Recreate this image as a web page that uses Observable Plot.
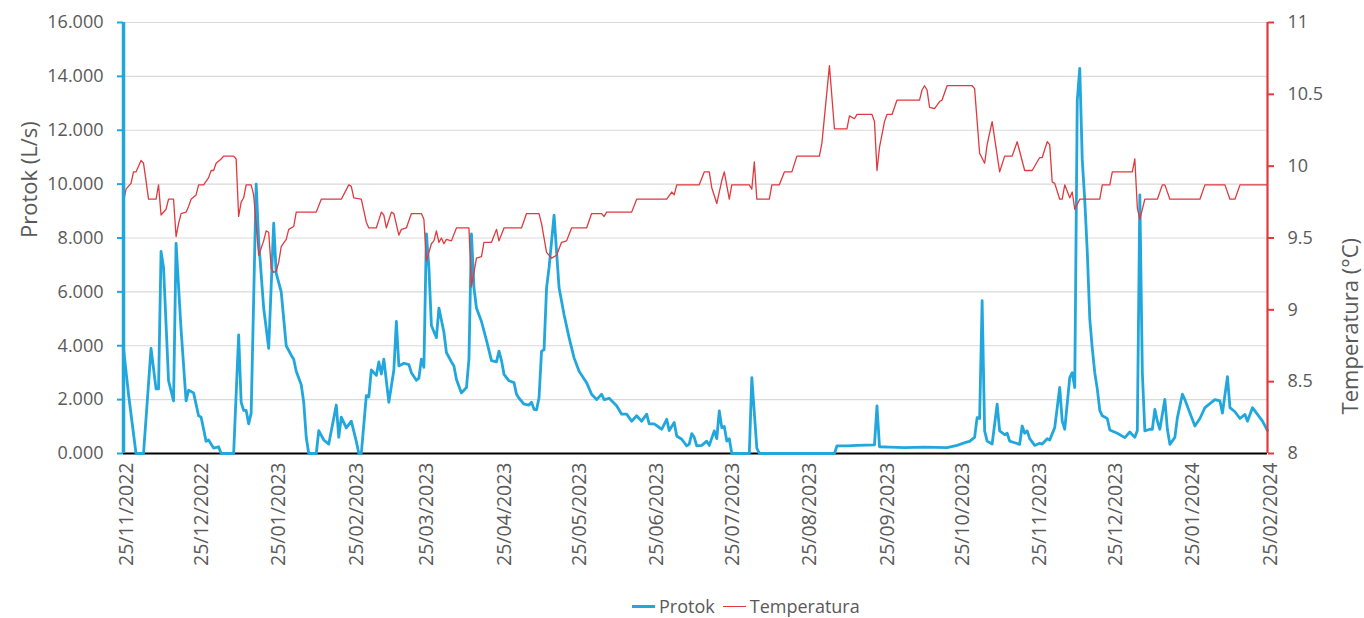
<!DOCTYPE html>
<html>
<head>
<meta charset="utf-8">
<script src="https://cdn.jsdelivr.net/npm/d3@7"></script>
<script src="https://cdn.jsdelivr.net/npm/@observablehq/plot@0.6"></script>
<style>
  html, body { margin: 0; padding: 0; background: #fff; }
  #wrap { position: relative; width: 1364px; height: 618px; font-family: "Open Sans", sans-serif; }
  #legend { position: absolute; left: 632px; top: 594px; display: flex; align-items: center; font-size: 18px; color: #595959; }
  #legend .item { display: flex; align-items: center; margin-right: 8px; }
  #legend .sw { width: 23px; margin-right: 4px; }
</style>
</head>
<body>
<div id="wrap">
  <div id="chart"></div>
  <div id="legend">
    <div class="item"><div class="sw" style="border-top:3px solid #22a7dc"></div><span>Protok</span></div>
    <div class="item"><div class="sw" style="border-top:1.5px solid #e0393e"></div><span>Temperatura</span></div>
  </div>
</div>
<script>
// ---- data (x = day number counted from 25/11/2022) ----
const startDate = "2022-11-25";
const endDay = 457;

const protokDays = [0,2,5,8,11,13,14,15,16,18,20,21,23,25,26,28,30,31,32,33,34,36,38,39,44,46,47,48,49,50,51,53,54,56,58,60,61,63,65,67,68,69,71,72,73,74,77,78,80,82,85,86,87,89,91,93,94,95,97,98,99,101,102,103,104,106,108,109,110,112,114,115,117,118,119,120,121,122,123,125,126,128,129,131,132,133,135,137,138,139,140,141,143,145,147,149,150,151,152,154,156,157,158,160,162,163,164,165,166,167,168,169,170,172,173,174,176,178,180,182,185,187,189,191,192,194,197,199,201,203,205,207,209,210,212,215,217,218,220,221,223,225,226,227,228,229,231,233,234,236,237,238,239,240,241,242,243,250,251,253,254,284,285,289,293,300,301,302,306,312,320,329,333,336,338,340,341,342,343,344,345,347,349,350,352,353,354,356,358,359,360,361,362,364,366,367,369,370,372,374,375,376,378,379,380,381,382,383,384,385,386,387,388,389,390,391,393,394,397,400,402,404,405,406,407,408,410,411,412,413,414,416,417,418,420,421,423,424,426,428,430,432,434,436,438,439,441,442,444,446,448,449,451,453,455,457];
const protokValues = [3.9,2.2,0,0,3.9,2.4,2.4,7.5,6.9,2.7,1.95,7.8,4.6,1.95,2.35,2.25,1.4,1.35,0.9,0.45,0.5,0.2,0.25,0,0,4.4,1.9,1.6,1.6,1.1,1.5,10.0,7.9,5.4,3.9,8.55,6.7,6.0,4.0,3.65,3.5,3.05,2.55,1.9,0.6,0,0,0.85,0.5,0.35,1.8,0.6,1.35,0.95,1.2,0.45,0,0,2.15,2.1,3.1,2.9,3.4,2.95,3.5,1.9,3.1,4.9,3.25,3.35,3.3,3.0,2.72,2.8,3.5,3.2,8.15,6.9,4.75,4.3,5.4,4.5,3.75,3.4,3.25,2.75,2.25,2.45,3.5,8.15,6.15,5.4,4.9,4.2,3.45,3.4,3.8,3.45,2.94,2.7,2.63,2.2,2.05,1.83,1.8,1.9,1.64,1.62,2.07,3.8,3.85,6.15,6.9,8.85,7.5,6.15,5.15,4.3,3.55,3.05,2.63,2.2,2.0,2.2,2.0,2.05,1.77,1.46,1.46,1.2,1.4,1.2,1.46,1.1,1.1,0.9,1.27,0.85,1.15,0.65,0.53,0.28,0.35,0.74,0.6,0.28,0.3,0.46,0.3,0.84,0.55,1.58,0.96,1.0,0.46,0.55,0,0,2.82,0.2,0,0,0.28,0.28,0.3,0.32,1.77,0.25,0.24,0.22,0.24,0.22,0.3,0.4,0.45,0.6,1.33,1.3,5.67,0.84,0.46,0.35,1.83,0.84,0.7,0.75,0.46,0.4,0.34,1.02,0.75,0.84,0.55,0.3,0.38,0.35,0.55,0.5,0.96,2.45,1.2,0.9,2.82,3.0,2.45,13.1,14.3,10.9,9.4,7.5,5.0,3.9,3.0,2.4,1.6,1.4,1.3,0.87,0.75,0.59,0.8,0.6,0.85,9.6,3.0,0.84,0.9,0.9,1.64,1.2,0.9,2.01,0.9,0.34,0.6,1.33,2.2,2.0,1.5,1.02,1.3,1.7,1.85,2.0,1.95,1.5,2.85,1.7,1.55,1.3,1.45,1.2,1.7,1.45,1.2,0.85];

const tempDays = [0,1,3,4,5,7,8,9,10,13,14,15,17,18,20,21,22,23,25,26,27,29,30,32,34,35,36,37,39,40,44,45,46,47,48,49,51,52,54,56,57,58,59,60,61,62,63,65,66,68,69,77,79,87,90,91,92,95,97,98,101,103,104,105,107,108,110,111,113,115,119,120,121,123,124,125,126,127,128,129,131,133,138,139,141,143,144,147,149,150,152,159,161,166,167,169,171,173,175,177,179,185,187,191,192,193,203,205,217,219,220,221,230,232,234,235,237,239,240,242,243,250,251,252,253,258,259,262,264,267,269,278,279,282,284,289,290,292,293,299,300,301,302,304,305,307,309,318,319,320,321,322,324,326,327,329,339,340,342,344,345,347,350,352,355,357,360,363,366,367,369,370,371,372,374,375,376,378,379,380,382,390,391,394,395,403,404,405,406,408,413,415,416,418,430,432,440,442,444,446,457];
const tempValues = [9.75,9.84,9.88,9.96,9.96,10.04,10.02,9.9,9.77,9.77,9.87,9.66,9.7,9.77,9.77,9.51,9.6,9.67,9.68,9.72,9.77,9.8,9.87,9.87,9.92,9.97,9.97,10.02,10.05,10.07,10.07,10.05,9.65,9.75,9.78,9.87,9.87,9.8,9.38,9.48,9.55,9.54,9.29,9.26,9.27,9.33,9.44,9.49,9.56,9.58,9.68,9.68,9.77,9.77,9.87,9.86,9.78,9.77,9.61,9.57,9.57,9.68,9.66,9.57,9.68,9.67,9.52,9.56,9.57,9.67,9.67,9.63,9.34,9.46,9.48,9.55,9.47,9.5,9.46,9.49,9.48,9.57,9.57,9.16,9.36,9.37,9.47,9.47,9.56,9.48,9.57,9.57,9.67,9.67,9.6,9.4,9.36,9.38,9.47,9.48,9.57,9.57,9.67,9.67,9.65,9.68,9.68,9.77,9.77,9.82,9.8,9.87,9.87,9.96,9.96,9.85,9.74,9.9,9.96,9.77,9.87,9.87,9.84,10.03,9.77,9.77,9.87,9.87,9.96,9.96,10.07,10.07,10.16,10.7,10.26,10.26,10.35,10.33,10.36,10.36,10.31,9.97,10.13,10.31,10.36,10.36,10.46,10.46,10.53,10.56,10.53,10.41,10.4,10.45,10.46,10.56,10.56,10.54,10.09,10.02,10.15,10.31,9.96,10.07,10.07,10.17,9.97,9.97,10.06,10.06,10.17,10.15,9.89,9.88,9.77,9.77,9.87,9.78,9.82,9.7,9.77,9.77,9.87,9.87,9.96,9.96,10.05,9.71,9.63,9.77,9.77,9.87,9.87,9.77,9.77,9.87,9.87,9.77,9.77,9.87,9.87];

const xTickLabels = ["25/11/2022","25/12/2022","25/01/2023","25/02/2023","25/03/2023","25/04/2023","25/05/2023","25/06/2023","25/07/2023","25/08/2023","25/09/2023","25/10/2023","25/11/2023","25/12/2023","25/01/2024","25/02/2024"];
const protokTicks = [0,2,4,6,8,10,12,14,16];
const tempTicks = [8,8.5,9,9.5,10,10.5,11];
const protokDomain = [0,16];
const tempDomain = [8,11];

// ---- build ----
const BLUE = "#22a7dc", RED = "#e0393e", TEXT = "#595959";
const t0 = d3.utcParse("%Y-%m-%d")(startDate);
const dayToDate = d => d3.utcDay.offset(t0, d);
const parseTick = d3.utcParse("%d/%m/%Y");
const fmtTick = d3.utcFormat("%d/%m/%Y");
// temperature mapped onto the primary (Protok) scale
const tScale = t => (t - tempDomain[0]) / (tempDomain[1] - tempDomain[0]) * (protokDomain[1] - protokDomain[0]) + protokDomain[0];
const tInv = v => (v - protokDomain[0]) / (protokDomain[1] - protokDomain[0]) * (tempDomain[1] - tempDomain[0]) + tempDomain[0];

const protok = protokDays.map((d, i) => ({date: dayToDate(d), v: protokValues[i]}));
const temp = tempDays.map((d, i) => ({date: dayToDate(d), v: tScale(tempValues[i])}));
const xDomain = [t0, dayToDate(endDay)];

const chart = Plot.plot({
  width: 1364,
  height: 585,
  marginTop: 22,
  marginBottom: 132,
  marginLeft: 123,
  marginRight: 97,
  style: {fontFamily: "Open Sans, sans-serif", fontSize: "18px", color: TEXT, background: "#fff"},
  x: {type: "utc", domain: xDomain},
  y: {domain: protokDomain},
  marks: [
    Plot.gridY(protokTicks, {stroke: "#d9d9d9", strokeOpacity: 1, strokeWidth: 1.2}),
    Plot.axisY(protokTicks, {anchor: "left", tickSize: 6, tickPadding: 14, stroke: BLUE, strokeWidth: 2, fill: TEXT,
      fontSize: 18, tickFormat: d3.format(".3f"), label: null}),
    Plot.axisY(tempTicks.map(tScale), {anchor: "right", tickSize: 6, tickPadding: 14, stroke: RED, strokeWidth: 2, fill: TEXT,
      fontSize: 18, tickFormat: v => d3.format("~g")(+tInv(v).toFixed(2)), label: null}),
    Plot.axisX(xTickLabels.map(parseTick), {anchor: "bottom", tickSize: 0, tickPadding: 9, tickRotate: -90, fill: TEXT,
      fontSize: 19.5, dx: 3, tickFormat: fmtTick, label: null}),
    Plot.ruleY([0], {stroke: "#000", strokeWidth: 2.2}),
    Plot.lineY(protok, {x: "date", y: "v", stroke: BLUE, strokeWidth: 2.8, strokeLinejoin: "round"}),
    Plot.lineY(temp, {x: "date", y: "v", stroke: RED, strokeWidth: 1.3, strokeLinejoin: "round"}),
    Plot.ruleX([xDomain[0]], {y1: protokDomain[0], y2: protokDomain[1], stroke: BLUE, strokeWidth: 3.5}),
    Plot.ruleX([xDomain[1]], {y1: protokDomain[0], y2: protokDomain[1], stroke: RED, strokeWidth: 2.2}),
    Plot.text(["Protok (L/s)"], {frameAnchor: "left", dx: -94, rotate: -90, fontSize: 22, fill: TEXT}),
    Plot.text(["Temperatura (°C)"], {frameAnchor: "right", dx: 83, rotate: -90, fontSize: 22, fill: TEXT})
  ]
});
document.getElementById("chart").appendChild(chart);
</script>
</body>
</html>
